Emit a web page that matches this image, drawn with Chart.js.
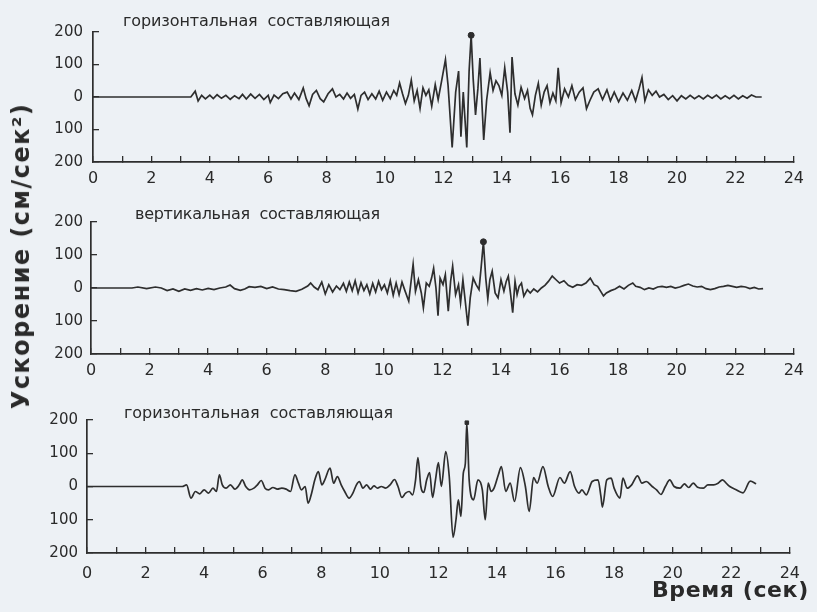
<!DOCTYPE html>
<html>
<head>
<meta charset="utf-8">
<script src="https://cdn.jsdelivr.net/npm/chart.js@4"></script>
<style>
  html, body { margin: 0; padding: 0; }
  body { width: 817px; height: 612px; background: #edf1f5; position: relative; overflow: hidden; font-family: "DejaVu Sans", sans-serif; color: #2a2a2a; }
  canvas { position: absolute; left: 0; }
  .txt { position: absolute; white-space: pre; line-height: 1; }
  .title { font-size: 16px; }
  .bold { font-weight: bold; }
</style>
</head>
<body>
<canvas id="c1" width="817" height="200" style="top:0px"></canvas>
<canvas id="c2" width="817" height="200" style="top:190px"></canvas>
<canvas id="c3" width="817" height="200" style="top:388px"></canvas>

<div class="txt title" id="t1" style="left:123px; top:12.5px">горизонтальная  составляющая</div>
<div class="txt title" id="t2" style="left:135px; top:205.5px">вертикальная  составляющая</div>
<div class="txt title" id="t3" style="left:124px; top:404.5px">горизонтальная  составляющая</div>
<div class="txt bold" id="ytitle" style="font-size:24px; left:21px; top:256px; transform: translate(-50%,-50%) rotate(-90deg);">Ускорение (см/сек²)</div>
<div class="txt bold" id="xtitle" style="font-size:22px; left:652px; top:579px;">Время (сек)</div>

<script>
// ---- tick labels ----
const xTickLabels = ['0','2','4','6','8','10','12','14','16','18','20','22','24'];
const yTickLabels = ['200','100','0','100','200'];

// ---- panel 1: горизонтальная составляющая ----
const h1T = [0,3.35,3.5,3.6,3.72,3.85,4.0,4.12,4.25,4.4,4.55,4.7,4.85,5.0,5.12,5.25,5.4,5.55,5.7,5.85,6.0,6.07,6.2,6.35,6.5,6.65,6.78,6.9,7.05,7.2,7.3,7.4,7.52,7.65,7.78,7.9,8.05,8.2,8.32,8.45,8.58,8.7,8.82,8.95,9.07,9.18,9.3,9.42,9.55,9.68,9.8,9.92,10.05,10.18,10.3,10.4,10.5,10.6,10.7,10.8,10.9,11.0,11.1,11.2,11.3,11.4,11.5,11.6,11.72,11.82,11.95,12.07,12.16,12.3,12.42,12.52,12.6,12.68,12.8,12.88,12.95,13.02,13.1,13.18,13.25,13.32,13.38,13.48,13.6,13.7,13.8,13.9,14.0,14.1,14.2,14.28,14.35,14.45,14.55,14.66,14.78,14.88,14.97,15.05,15.15,15.25,15.35,15.45,15.55,15.65,15.75,15.85,15.93,16.03,16.15,16.28,16.4,16.52,16.65,16.78,16.9,17.02,17.15,17.3,17.45,17.6,17.72,17.85,18.0,18.15,18.3,18.45,18.58,18.7,18.8,18.9,19.02,19.15,19.28,19.4,19.55,19.7,19.85,20.0,20.15,20.3,20.45,20.6,20.75,20.9,21.05,21.2,21.35,21.5,21.65,21.8,21.95,22.1,22.25,22.4,22.55,22.7,22.9];
const h1V = [0,0,18,-12,5,-6,6,-5,7,-4,5,-7,4,-5,8,-6,9,-4,8,-8,5,-17,6,-5,10,15,-6,12,-8,28,-5,-27,8,20,-5,-15,10,25,0,8,-6,12,-4,8,-37,5,15,-8,10,-6,18,-10,15,-5,20,5,43,10,-20,5,52,-12,20,-35,28,5,22,-28,38,-8,55,115,35,-155,15,80,-122,15,-155,80,190,55,-55,25,120,-20,-132,-10,75,20,50,35,5,90,15,-110,123,10,-25,30,-5,20,-35,-55,5,42,-25,15,35,-18,12,-12,90,-18,25,0,35,-8,15,28,-36,-10,15,25,-8,22,-12,15,-15,12,-10,20,-12,25,60,-12,22,5,18,0,8,-8,4,-12,4,-6,5,-5,4,-6,5,-4,6,-6,4,-5,5,-6,4,-4,6,0,0];
const h1PeakT = [12.95];
const h1PeakV = [190];

// ---- panel 2: вертикальная составляющая ----
const vT = [0,1.4,1.6,1.9,2.2,2.4,2.6,2.8,3.0,3.2,3.4,3.6,3.8,4.0,4.2,4.4,4.6,4.75,4.9,5.1,5.25,5.4,5.6,5.8,6.0,6.2,6.4,6.6,6.8,7.0,7.2,7.4,7.5,7.62,7.75,7.88,8.0,8.12,8.25,8.38,8.5,8.62,8.72,8.82,8.92,9.02,9.12,9.22,9.32,9.42,9.52,9.62,9.72,9.82,9.92,10.02,10.12,10.22,10.32,10.42,10.52,10.62,10.72,10.85,10.93,11.0,11.08,11.18,11.28,11.35,11.45,11.55,11.63,11.7,11.78,11.85,11.92,12.02,12.1,12.2,12.28,12.35,12.45,12.55,12.62,12.7,12.78,12.87,12.95,13.05,13.15,13.25,13.32,13.4,13.48,13.55,13.62,13.7,13.8,13.9,14.0,14.1,14.18,14.25,14.33,14.4,14.48,14.55,14.62,14.7,14.78,14.9,15.0,15.12,15.25,15.38,15.5,15.62,15.75,15.88,16.0,16.15,16.3,16.45,16.6,16.75,16.9,17.05,17.18,17.3,17.5,17.6,17.75,17.9,18.05,18.2,18.35,18.5,18.6,18.75,18.9,19.05,19.2,19.35,19.5,19.65,19.8,19.95,20.1,20.25,20.4,20.55,20.7,20.85,21.0,21.15,21.3,21.45,21.6,21.75,21.9,22.05,22.2,22.35,22.5,22.65,22.8,22.95];
const vV = [0,0,3,-2,3,0,-8,-3,-10,-3,-7,-2,-6,-1,-5,0,3,9,-2,-7,-3,4,2,5,-2,3,-3,-5,-8,-10,-4,6,15,3,-5,18,-18,10,-12,6,-5,14,-10,18,-8,22,-15,16,-8,10,-18,14,-12,20,-5,10,-15,22,-22,15,-20,18,-8,-40,20,72,-10,25,-15,-60,15,5,30,60,0,-84,30,10,40,-70,20,66,-20,10,-45,25,-40,-114,-30,30,10,-5,60,140,30,-33,25,51,-15,-30,25,-10,20,36,-20,-75,20,-20,5,15,-25,-5,-15,-3,-12,0,8,20,36,25,15,22,8,2,10,8,15,30,10,5,-24,-15,-8,-3,5,-3,8,15,5,2,-5,0,-3,3,5,2,5,0,3,8,12,6,3,5,-2,-5,-2,3,5,8,5,2,5,3,-2,2,-3,-2];
const vPeakT = [13.4];
const vPeakV = [140];

// ---- panel 3: горизонтальная составляющая ----
const h2T = [0,3.25,3.4,3.55,3.7,3.85,4.0,4.15,4.3,4.42,4.52,4.62,4.75,4.9,5.05,5.2,5.3,5.42,5.55,5.7,5.82,5.95,6.08,6.2,6.35,6.5,6.65,6.8,6.95,7.1,7.22,7.32,7.45,7.55,7.67,7.78,7.9,8.02,8.12,8.3,8.42,8.55,8.68,8.8,8.95,9.08,9.2,9.3,9.42,9.55,9.68,9.8,9.92,10.05,10.2,10.35,10.5,10.62,10.75,10.88,11.0,11.12,11.22,11.3,11.4,11.5,11.6,11.7,11.8,11.9,12.0,12.1,12.25,12.37,12.5,12.6,12.68,12.77,12.85,12.92,12.97,13.05,13.2,13.35,13.5,13.6,13.7,13.8,13.9,14.05,14.15,14.3,14.45,14.6,14.8,14.97,15.1,15.25,15.37,15.57,15.75,15.9,16.15,16.3,16.5,16.65,16.8,16.9,17.05,17.25,17.45,17.55,17.6,17.75,17.9,18.0,18.2,18.3,18.45,18.6,18.8,18.95,19.1,19.3,19.45,19.6,19.75,19.9,20.05,20.25,20.4,20.55,20.7,20.85,21.05,21.2,21.4,21.55,21.7,21.85,21.95,22.15,22.4,22.65,22.85];
const h2V = [0,0,5,-35,-15,-22,-10,-20,-5,-15,35,5,-5,5,-8,5,20,0,-10,-5,5,18,-5,-10,-3,-8,-5,-8,-15,35,10,-10,0,-50,-20,20,45,5,20,55,10,30,5,-15,-35,-20,5,15,-5,5,-8,2,-5,0,-5,5,21,0,-33,-20,-15,-25,20,87,0,-18,20,42,-33,20,72,0,105,30,-153,-100,-40,-90,40,70,192,20,-40,20,-10,-100,10,-15,-5,36,60,-15,10,-45,57,0,-75,27,10,60,0,-30,27,10,45,0,-20,-10,-25,15,20,-30,-62,20,25,-5,-35,25,-5,5,32,10,15,0,-10,-24,0,20,0,-5,8,-3,10,-2,-5,5,5,10,20,8,0,-9,-19,16,8];
const h2PeakT = [12.97];
const h2PeakV = [192];

const INK = '#2e2e2e';

function pts(t, v) { return t.map((x, i) => ({ x: x, y: v[i] })); }

function makeChart(id, t, v, pt, pv, cfg) {
  const trace = { data: pts(t, v), borderColor: INK, borderWidth: 1.7, pointRadius: 0, tension: cfg.tension, fill: false };
  if (cfg.smooth) trace.cubicInterpolationMode = 'monotone';
  return new Chart(document.getElementById(id), {
    type: 'line',
    data: {
      datasets: [
        trace,
        { data: pts(pt, pv), showLine: false, pointRadius: cfg.pr, pointStyle: cfg.ps, pointBackgroundColor: INK, pointBorderColor: INK, pointBorderWidth: 1 }
      ]
    },
    options: {
      responsive: false,
      animation: false,
      devicePixelRatio: 1,
      events: [],
      layout: { padding: { top: 32, right: cfg.right, left: 0, bottom: 0 } },
      plugins: { legend: { display: false }, tooltip: { enabled: false }, title: { display: false } },
      scales: {
        x: {
          type: 'linear', min: 0, max: 24,
          afterFit: s => { s.height = cfg.xh; },
          ticks: {
            stepSize: 1, autoSkip: false, maxRotation: 0, minRotation: 0,
            padding: cfg.xpad, color: '#2a2a2a',
            font: { family: 'DejaVu Sans', size: 16 },
            callback: val => (val % 2 === 0 ? xTickLabels[val / 2] : '')
          },
          grid: { drawOnChartArea: false, drawTicks: true, tickLength: -6, color: INK, lineWidth: 1.3 },
          border: { display: true, color: INK, width: 1.7 }
        },
        y: {
          type: 'linear', min: -200, max: 200,
          afterFit: s => { s.width = cfg.left; },
          ticks: {
            stepSize: 100, padding: cfg.ypad, color: '#2a2a2a',
            font: { family: 'DejaVu Sans', size: 15 },
            callback: val => yTickLabels[(200 - val) / 100]
          },
          grid: { drawOnChartArea: false, drawTicks: true, tickLength: -6, color: INK, lineWidth: 1.3 },
          border: { display: true, color: INK, width: 1.7 }
        }
      }
    }
  });
}

makeChart('c1', h1T, h1V, h1PeakT, h1PeakV, { left: 93, right: 15, xh: 38, xpad: 13, ypad: 16, pr: 3, ps: 'circle', tension: 0, smooth: false });
makeChart('c2', vT, vV, vPeakT, vPeakV, { left: 91, right: 15, xh: 36, xpad: 13, ypad: 14, pr: 3, ps: 'circle', tension: 0, smooth: false });
makeChart('c3', h2T, h2V, h2PeakT, h2PeakV, { left: 87, right: 19, xh: 35, xpad: 17, ypad: 15, pr: 2.5, ps: 'rect', tension: 0.4, smooth: true });

// fit text lengths to the reference extents via letter spacing
function fit(id, target) {
  const el = document.getElementById(id);
  const w = el.offsetWidth;
  const n = el.textContent.length;
  if (n > 1) el.style.letterSpacing = ((target - w) / (n - 1)) + 'px';
}
fit('t1', 267);
fit('t2', 245);
fit('t3', 269);
fit('ytitle', 305);
fit('xtitle', 156);
</script>
</body>
</html>
